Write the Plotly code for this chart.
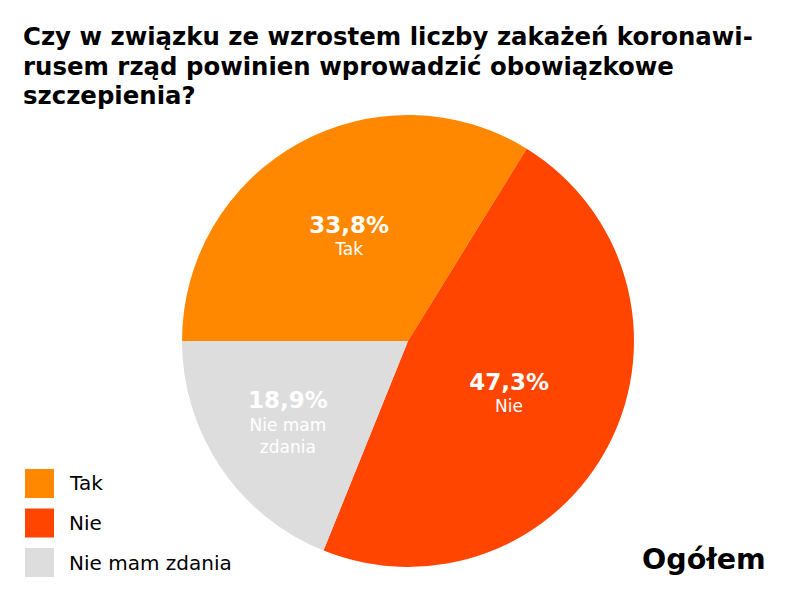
import plotly.graph_objects as go

# dane z wykresu
labels = ["Tak", "Nie", "Nie mam zdania"]
values = [33.8, 47.3, 18.9]
inner_labels = ["Tak", "Nie", "Nie mam<br>zdania"]
colors = ["#FF8800", "#FF4500", "#DDDDDD"]

title_lines = [
    "Czy w związku ze wzrostem liczby zakażeń koronawi-",
    "rusem rząd powinien wprowadzić obowiązkowe",
    "szczepienia?",
]
corner_label = "Ogółem"

W, H = 801, 601
FONT = "DejaVu Sans, sans-serif"

fig = go.Figure()

fig.add_trace(go.Pie(
    labels=labels,
    values=values,
    text=inner_labels,
    sort=False,
    direction="clockwise",
    rotation=270,
    marker=dict(colors=colors, line=dict(width=0)),
    texttemplate="<span style='font-size:23px'><b>%{percent:.1%}</b></span><br>%{text}",
    textposition="inside",
    insidetextorientation="horizontal",
    textfont=dict(family=FONT, color="white", size=17),
    domain=dict(x=[(408 - 226) / W, (408 + 226) / W], y=[34 / H, 486 / H]),
    showlegend=False,
    hoverinfo="label+percent",
))

# tytuł - każda linia osobno, żeby trzymać odstępy
annotations = []
for i, line in enumerate(title_lines):
    annotations.append(dict(
        text="<b>" + line + "</b>", x=21 / W, y=1 - (37 + 29.5 * i) / H,
        xref="paper", yref="paper", xanchor="left", yanchor="middle",
        showarrow=False, font=dict(family=FONT, size=24.4, color="black"),
    ))

# legenda rysowana ręcznie (kwadraty)
shapes = []
for i, (lab, col) in enumerate(zip(labels, colors)):
    yc = 483.5 + 39.5 * i
    shapes.append(dict(
        type="rect", xref="paper", yref="paper",
        x0=25 / W, x1=54 / W, y0=1 - (yc - 14.5) / H, y1=1 - (yc + 14.5) / H,
        fillcolor=col, line=dict(width=0),
    ))
    annotations.append(dict(
        text=lab, x=67 / W, y=1 - yc / H, xref="paper", yref="paper",
        xanchor="left", yanchor="middle", showarrow=False,
        font=dict(family=FONT, size=20, color="black"),
    ))

annotations.append(dict(
    text="<b>" + corner_label + "</b>", x=768 / W, y=1 - 559 / H,
    xref="paper", yref="paper", xanchor="right", yanchor="middle",
    showarrow=False, font=dict(family=FONT, size=28.5, color="black"),
))

fig.update_layout(
    width=W, height=H,
    margin=dict(l=0, r=0, t=0, b=0),
    paper_bgcolor="white",
    plot_bgcolor="white",
    separators=", ",
    annotations=annotations,
    shapes=shapes,
)

fig.write_html("out.html", config={"displayModeBar": False},
               post_script="document.body.style.margin='0';")
